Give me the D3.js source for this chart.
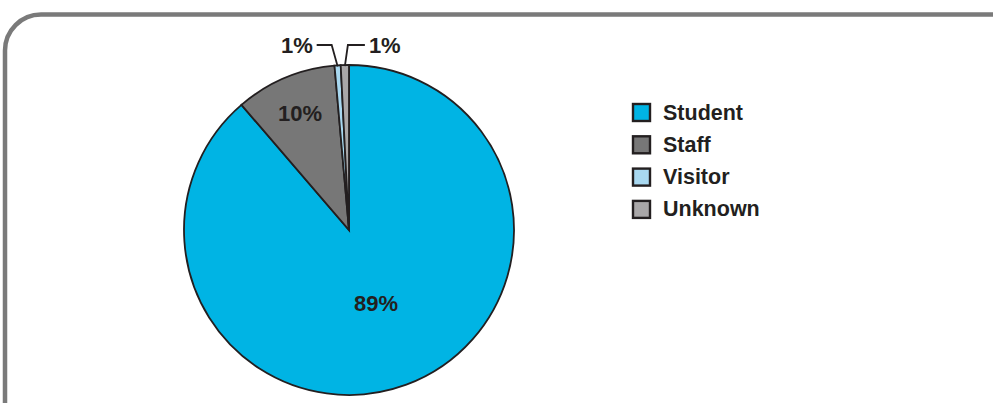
<!DOCTYPE html>
<html>
<head>
<meta charset="utf-8">
<style>
  body { margin: 0; background: #fff; }
  svg { display: block; font-family: "Liberation Sans", Arial, Helvetica, sans-serif; }
</style>
</head>
<body>
<svg width="993" height="403"></svg>
<script src="https://d3js.org/d3.v7.min.js"></script>
<script>
// data
var categories = ["Student", "Staff", "Visitor", "Unknown"];
var shares = [88.7, 9.9, 0.6, 0.8];
var colors = ["#00b4e4", "#777777", "#a8d8f0", "#a9a7a8"];

var data = categories.map(function(c, i) { return { name: c, value: shares[i], color: colors[i] }; });

var svg = d3.select("svg");
var ink = "#231f20";

// rounded frame, running off the right and bottom
svg.append("rect")
    .attr("x", 5).attr("y", 14.5)
    .attr("width", 1100).attr("height", 500)
    .attr("rx", 36).attr("ry", 36)
    .attr("fill", "none")
    .attr("stroke", "#7a7a7a")
    .attr("stroke-width", 4.5);

var cx = 349, cy = 230, r = 165;

var pie = d3.pie().sort(null).value(function(d) { return d.value; });
var arcs = pie(data);

var arc = d3.arc().innerRadius(0).outerRadius(r);

var g = svg.append("g").attr("transform", "translate(" + cx + "," + cy + ")");

g.selectAll("path.slice")
  .data(arcs)
  .enter().append("path")
    .attr("class", "slice")
    .attr("d", arc)
    .attr("fill", function(d) { return d.data.color; })
    .attr("stroke", ink)
    .attr("stroke-width", 1.8)
    .attr("stroke-linejoin", "miter");

var pct = function(d) { return Math.round(d.data.value) + "%"; };

// inside labels for the two big slices
var labelRadius = { Student: 78, Staff: 126 };
arcs.filter(function(d) { return labelRadius[d.data.name]; }).forEach(function(d) {
  var lr = labelRadius[d.data.name];
  var c = d3.arc().innerRadius(lr).outerRadius(lr).centroid(d);
  g.append("text")
      .attr("x", c[0]).attr("y", c[1])
      .attr("text-anchor", "middle")
      .attr("dominant-baseline", "central")
      .attr("font-size", 22)
      .attr("font-weight", "bold")
      .attr("fill", ink)
      .text(pct(d));
});

// leader lines for the thin slices
var tiny = arcs.filter(function(d) { return !labelRadius[d.data.name]; });
var lineY = 45 - cy;
tiny.forEach(function(d, i) {
  var a = (d.startAngle + d.endAngle) / 2;
  var p0 = [Math.sin(a) * (r - 1), -Math.cos(a) * (r - 1)];
  var left = i === 0;
  var elbow = [p0[0] + (left ? -6 : 3), lineY];
  var end = [elbow[0] + (left ? -15 : 17), lineY];
  g.append("path")
      .attr("d", d3.line()([p0, elbow, end]))
      .attr("fill", "none")
      .attr("stroke", ink)
      .attr("stroke-width", 1.8);
  g.append("text")
      .attr("x", end[0] + (left ? -4 : 4)).attr("y", lineY)
      .attr("text-anchor", left ? "end" : "start")
      .attr("dominant-baseline", "central")
      .attr("font-size", 22)
      .attr("font-weight", "bold")
      .attr("fill", ink)
      .text(pct(d));
});

// legend
var legend = svg.append("g").attr("transform", "translate(633,104)");
var row = legend.selectAll("g")
  .data(data)
  .enter().append("g")
    .attr("transform", function(d, i) { return "translate(0," + (i * 32.3) + ")"; });

row.append("rect")
    .attr("width", 17).attr("height", 17)
    .attr("fill", function(d) { return d.color; })
    .attr("stroke", ink)
    .attr("stroke-width", 2.4);

row.append("text")
    .attr("x", 30).attr("y", 8.5)
    .attr("dominant-baseline", "central")
    .attr("font-size", 21.5)
    .attr("font-weight", "bold")
    .attr("fill", ink)
    .text(function(d) { return d.name; });
</script>
</body>
</html>
